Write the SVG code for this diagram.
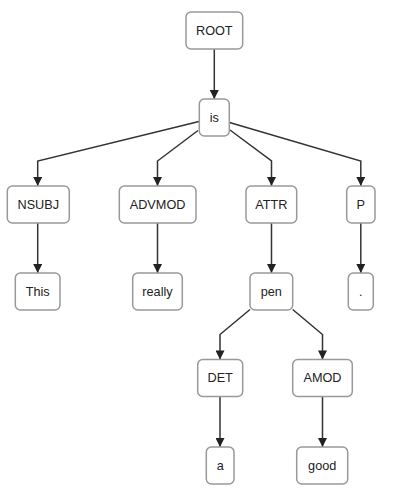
<svg xmlns="http://www.w3.org/2000/svg" width="401" height="493" viewBox="0 0 401 493">
<defs>
<style>
.n rect{fill:#fff;stroke:#999;stroke-width:1.5}
.n text{font-family:"Liberation Sans","Helvetica Neue",Arial,sans-serif;font-size:12.7px;fill:#222;text-anchor:middle;dominant-baseline:central}
.e path{fill:none;stroke:#333;stroke-width:1.5;marker-end:url(#arr)}
</style>
<marker id="arr" viewBox="0 0 10 10" refX="10" refY="5" markerUnits="userSpaceOnUse" markerWidth="10" markerHeight="9" orient="auto">
<path d="M0,0 L10,5 L0,10 z" fill="#222"/>
</marker>
</defs>
<rect width="401" height="493" fill="#fff"/>
<g id="edges" class="e">
<path d="M214.3,49 V99"/>
<path d="M199,121.5 L37.7,161 V186"/>
<path d="M198,130.5 L157.5,161 V186"/>
<path d="M230,130 L271.5,161 V186"/>
<path d="M229.5,122.5 L360.8,161 V186"/>
<path d="M37.7,223 V273"/>
<path d="M157.5,223 V273"/>
<path d="M271.5,223 V273"/>
<path d="M360.8,223 V273"/>
<path d="M250,309.5 L220,334.5 V359.5"/>
<path d="M292.7,309.5 L322.5,334.5 V359.5"/>
<path d="M220,396.5 V447"/>
<path d="M322.5,396.5 V447"/>
</g>
<g id="n-root" class="n"><rect x="186" y="12" width="56.7" height="37" rx="5"/><text x="214.3" y="30.5">ROOT</text></g>
<g id="n-is" class="n"><rect x="199.3" y="99" width="30" height="37" rx="5"/><text x="214.3" y="117.5">is</text></g>
<g id="n-nsubj" class="n"><rect x="7.3" y="186" width="62" height="37" rx="5"/><text x="38.3" y="204.5">NSUBJ</text></g>
<g id="n-advmod" class="n"><rect x="119.3" y="186" width="76.7" height="37" rx="5"/><text x="157.6" y="204.5">ADVMOD</text></g>
<g id="n-attr" class="n"><rect x="246" y="186" width="50.7" height="37" rx="5"/><text x="271.3" y="204.5">ATTR</text></g>
<g id="n-p" class="n"><rect x="346.7" y="186" width="28.3" height="37" rx="5"/><text x="360.8" y="204.5">P</text></g>
<g id="n-this" class="n"><rect x="15.3" y="273" width="44.7" height="37" rx="5"/><text x="37.7" y="291.5">This</text></g>
<g id="n-really" class="n"><rect x="132.7" y="273" width="49.6" height="37" rx="5"/><text x="157.5" y="291.5">really</text></g>
<g id="n-pen" class="n"><rect x="250" y="273" width="42.7" height="37" rx="5"/><text x="271.3" y="291.5">pen</text></g>
<g id="n-dot" class="n"><rect x="348.3" y="273" width="25" height="37" rx="5"/><text x="360.8" y="291.5">.</text></g>
<g id="n-det" class="n"><rect x="197.7" y="359.5" width="45" height="37" rx="5"/><text x="220.2" y="378">DET</text></g>
<g id="n-amod" class="n"><rect x="292.7" y="359.5" width="59.6" height="37" rx="5"/><text x="322.5" y="378">AMOD</text></g>
<g id="n-a" class="n"><rect x="206.3" y="447" width="27.7" height="37" rx="5"/><text x="220.2" y="465.5">a</text></g>
<g id="n-good" class="n"><rect x="296.7" y="447" width="51" height="37" rx="5"/><text x="322.2" y="465.5">good</text></g>
</svg>
